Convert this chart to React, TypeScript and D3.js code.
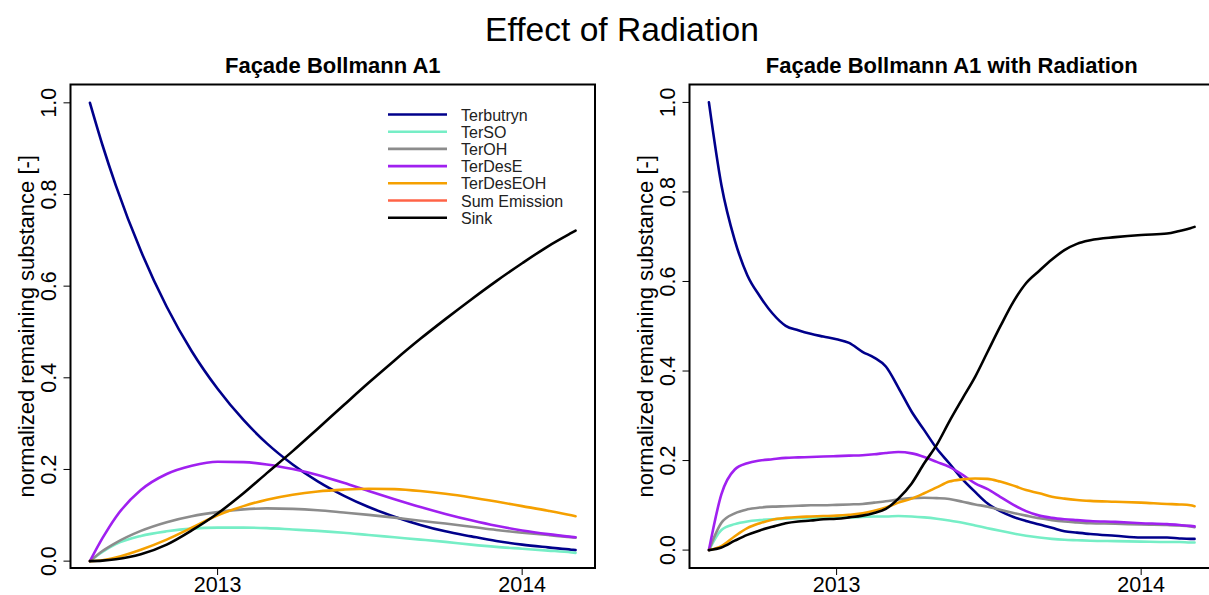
import React from "react";
import * as d3 from "d3";

// ---- series metadata ----
const seriesNames = ["Terbutryn", "TerSO", "TerOH", "TerDesE", "TerDesEOH", "Sum Emission", "Sink"];
const seriesColors = ["#00008B", "#76EEC6", "#8C8C8C", "#A020F0", "#F5A000", "#FF6347", "#000000"];

// ---- Façade Bollmann A1 (no radiation), monthly output ----
const baseDates = [
  "2012-08-01", "2012-08-16", "2012-09-01", "2012-10-01", "2012-11-01", "2012-12-01",
  "2013-01-01", "2013-02-01", "2013-03-01", "2013-04-01", "2013-05-01", "2013-06-01",
  "2013-07-01", "2013-08-01", "2013-09-01", "2013-10-01", "2013-11-01", "2013-12-01",
  "2014-01-01", "2014-02-01", "2014-03-01", "2014-03-06",
];
const baseTerbutryn = [1.0, 0.908, 0.82, 0.677, 0.555, 0.458, 0.376, 0.308, 0.257, 0.211, 0.174, 0.143, 0.118, 0.097, 0.079, 0.065, 0.054, 0.044, 0.036, 0.03, 0.025, 0.024];
const baseTerSO = [0, 0.02, 0.037, 0.055, 0.065, 0.071, 0.073, 0.073, 0.072, 0.069, 0.066, 0.062, 0.057, 0.052, 0.047, 0.042, 0.036, 0.031, 0.027, 0.023, 0.019, 0.018];
const baseTerOH = [0, 0.022, 0.04, 0.066, 0.085, 0.098, 0.107, 0.113, 0.115, 0.114, 0.111, 0.106, 0.101, 0.095, 0.088, 0.082, 0.075, 0.068, 0.062, 0.057, 0.052, 0.051];
const baseTerDesE = [0, 0.05, 0.096, 0.155, 0.19, 0.208, 0.217, 0.216, 0.211, 0.201, 0.188, 0.171, 0.153, 0.135, 0.118, 0.103, 0.089, 0.077, 0.067, 0.059, 0.053, 0.052];
const baseTerDesEOH = [0, 0.002, 0.008, 0.025, 0.047, 0.073, 0.1, 0.12, 0.134, 0.145, 0.152, 0.156, 0.158, 0.157, 0.153, 0.147, 0.139, 0.13, 0.12, 0.11, 0.1, 0.098];
const baseSink = [0, 0.001, 0.004, 0.015, 0.036, 0.067, 0.104, 0.148, 0.192, 0.24, 0.289, 0.34, 0.389, 0.438, 0.485, 0.528, 0.571, 0.611, 0.65, 0.687, 0.716, 0.721];

// ---- Façade Bollmann A1 with radiation, half-monthly output ----
const radDates = [
  "2012-08-01", "2012-08-16", "2012-09-01", "2012-09-16", "2012-10-01", "2012-10-16",
  "2012-11-01", "2012-11-16", "2012-12-01", "2012-12-16", "2013-01-01", "2013-01-16",
  "2013-02-01", "2013-02-15", "2013-03-01", "2013-03-16", "2013-04-01", "2013-04-16",
  "2013-05-01", "2013-05-16", "2013-06-01", "2013-06-16", "2013-07-01", "2013-07-16",
  "2013-08-01", "2013-08-16", "2013-09-01", "2013-09-16", "2013-10-01", "2013-10-16",
  "2013-11-01", "2013-12-01", "2014-01-01", "2014-02-01", "2014-02-16", "2014-03-01",
  "2014-03-06",
];
const radTerbutryn = [1.0, 0.815, 0.692, 0.614, 0.567, 0.529, 0.501, 0.491, 0.483, 0.477, 0.471, 0.463, 0.443, 0.43, 0.41, 0.363, 0.309, 0.268, 0.227, 0.194, 0.158, 0.13, 0.104, 0.087, 0.074, 0.065, 0.057, 0.05, 0.042, 0.039, 0.036, 0.032, 0.028, 0.028, 0.026, 0.025, 0.025];
const radTerSO = [0, 0.045, 0.058, 0.064, 0.067, 0.069, 0.07, 0.071, 0.072, 0.072, 0.073, 0.073, 0.074, 0.075, 0.075, 0.076, 0.075, 0.073, 0.07, 0.066, 0.061, 0.055, 0.049, 0.043, 0.037, 0.032, 0.028, 0.025, 0.023, 0.022, 0.021, 0.02, 0.019, 0.018, 0.018, 0.017, 0.017];
const radTerOH = [0, 0.061, 0.082, 0.091, 0.095, 0.097, 0.098, 0.099, 0.1, 0.1, 0.101, 0.102, 0.103, 0.106, 0.109, 0.113, 0.116, 0.117, 0.116, 0.114, 0.108, 0.102, 0.097, 0.09, 0.083, 0.077, 0.071, 0.067, 0.064, 0.062, 0.06, 0.059, 0.057, 0.056, 0.055, 0.053, 0.051];
const radTerDesE = [0, 0.125, 0.18, 0.194, 0.2, 0.203, 0.206, 0.207, 0.208, 0.209, 0.21, 0.211, 0.212, 0.214, 0.217, 0.219, 0.216, 0.208, 0.197, 0.186, 0.168, 0.149, 0.136, 0.119, 0.101, 0.087, 0.077, 0.072, 0.069, 0.067, 0.065, 0.063, 0.06, 0.058, 0.056, 0.054, 0.053];
const radTerDesEOH = [0, 0.009, 0.031, 0.049, 0.06, 0.068, 0.072, 0.074, 0.075, 0.076, 0.077, 0.079, 0.082, 0.088, 0.095, 0.106, 0.115, 0.127, 0.14, 0.153, 0.158, 0.16, 0.159, 0.153, 0.144, 0.134, 0.127, 0.119, 0.115, 0.112, 0.11, 0.108, 0.106, 0.103, 0.102, 0.1, 0.098];
const radSink = [0, 0.006, 0.021, 0.034, 0.044, 0.052, 0.06, 0.064, 0.066, 0.069, 0.07, 0.073, 0.077, 0.083, 0.092, 0.115, 0.149, 0.194, 0.235, 0.287, 0.339, 0.387, 0.443, 0.499, 0.555, 0.596, 0.624, 0.649, 0.67, 0.684, 0.692, 0.699, 0.704, 0.707, 0.713, 0.719, 0.722];

const yTickValues = [0, 0.2, 0.4, 0.6, 0.8, 1.0];
const xTickLabels = ["2013", "2014"];

const FONT = "'Liberation Sans', Arial, Helvetica, sans-serif";
const W = 1209;
const H = 595;

type Series = { name: string; color: string; values: number[] };

type PanelProps = {
  title: string;
  dates: string[];
  series: Series[];
  yDomain: [number, number];
  box: { x0: number; x1: number; y0: number; y1: number };
  showLegend: boolean;
};

const parse = d3.timeParse("%Y-%m-%d");

function Panel({ title, dates, series, yDomain, box, showLegend }: PanelProps) {
  const t = dates.map((d) => parse(d) as Date);
  const [tMin, tMax] = d3.extent(t) as [Date, Date];
  const span = +tMax - +tMin;
  // R-style 4% padding on the time axis
  const x = d3
    .scaleTime()
    .domain([new Date(+tMin - 0.04 * span), new Date(+tMax + 0.04 * span)])
    .range([box.x0, box.x1]);
  const y = d3.scaleLinear().domain(yDomain).range([box.y1, box.y0]);

  const line = d3
    .line<number>()
    .x((_, i) => x(t[i]))
    .y((v) => y(v))
    .curve(d3.curveMonotoneX);

  const xTicks = xTickLabels.map((s) => ({ label: s, date: parse(`${s}-01-01`) as Date }));
  const cx = (box.x0 + box.x1) / 2;
  const cy = (box.y0 + box.y1) / 2;

  return (
    <g>
      <text x={cx} y={73} textAnchor="middle" fontFamily={FONT} fontWeight="bold" fontSize={22} fill="#000">
        {title}
      </text>

      {series
        .filter((s) => s.values.length > 0)
        .map((s) => (
          <path key={s.name} d={line(s.values) ?? ""} fill="none" stroke={s.color} strokeWidth={2.6} strokeLinejoin="round" strokeLinecap="round" />
        ))}

      <rect x={box.x0} y={box.y0} width={box.x1 - box.x0} height={box.y1 - box.y0} fill="none" stroke="#000" strokeWidth={2} />

      {/* y axis */}
      {yTickValues.map((v) => (
        <g key={v}>
          <line x1={box.x0 - 7} x2={box.x0} y1={y(v)} y2={y(v)} stroke="#000" strokeWidth={1} />
          <text
            transform={`translate(${box.x0 - 15},${y(v)}) rotate(-90)`}
            textAnchor="middle"
            fontFamily={FONT}
            fontSize={21.5}
            fill="#000"
          >
            {d3.format(".1f")(v)}
          </text>
        </g>
      ))}
      <text
        transform={`translate(${box.x0 - 37},${cy}) rotate(-90)`}
        textAnchor="middle"
        fontFamily={FONT}
        fontSize={22}
        fill="#000"
      >
        normalized remaining substance [-]
      </text>

      {/* x axis */}
      {xTicks.map((tk) => (
        <g key={tk.label}>
          <line x1={x(tk.date)} x2={x(tk.date)} y1={box.y1} y2={box.y1 + 7} stroke="#000" strokeWidth={1} />
          <text x={x(tk.date)} y={box.y1 + 23.5} textAnchor="middle" fontFamily={FONT} fontSize={21.5} fill="#000">
            {tk.label}
          </text>
        </g>
      ))}

      {showLegend &&
        series.map((s, i) => {
          const ly = box.y0 + 30 + i * 17.2;
          return (
            <g key={`lg-${s.name}`}>
              <line x1={box.x0 + 317.5} x2={box.x0 + 376.5} y1={ly} y2={ly} stroke={s.color} strokeWidth={2.6} />
              <text x={box.x0 + 390.5} y={ly + 6} fontFamily={FONT} fontSize={16} fill="#222">
                {s.name}
              </text>
            </g>
          );
        })}
    </g>
  );
}

export default function App() {
  const baseValues = [baseTerbutryn, baseTerSO, baseTerOH, baseTerDesE, baseTerDesEOH, [], baseSink];
  const radValues = [radTerbutryn, radTerSO, radTerOH, radTerDesE, radTerDesEOH, [], radSink];
  const baseSeries: Series[] = seriesNames.map((n, i) => ({ name: n, color: seriesColors[i], values: baseValues[i] }));
  const radSeries: Series[] = seriesNames.map((n, i) => ({ name: n, color: seriesColors[i], values: radValues[i] }));

  return (
    <svg width={W} height={H} style={{ position: "absolute", left: 0, top: 0, background: "#fff" }}>
      <rect x={0} y={0} width={W} height={H} fill="#fff" />
      <text x={622} y={41} textAnchor="middle" fontFamily={FONT} fontSize={33.6} fill="#000">
        Effect of Radiation
      </text>
      <Panel
        title="Façade Bollmann A1"
        dates={baseDates}
        series={baseSeries}
        yDomain={[-0.015, 1.04]}
        box={{ x0: 70.5, x1: 595, y0: 84.5, y1: 568 }}
        showLegend={true}
      />
      <Panel
        title="Façade Bollmann A1 with Radiation"
        dates={radDates}
        series={radSeries}
        yDomain={[-0.04, 1.04]}
        box={{ x0: 689.5, x1: 1214, y0: 84.5, y1: 568 }}
        showLegend={false}
      />
    </svg>
  );
}
